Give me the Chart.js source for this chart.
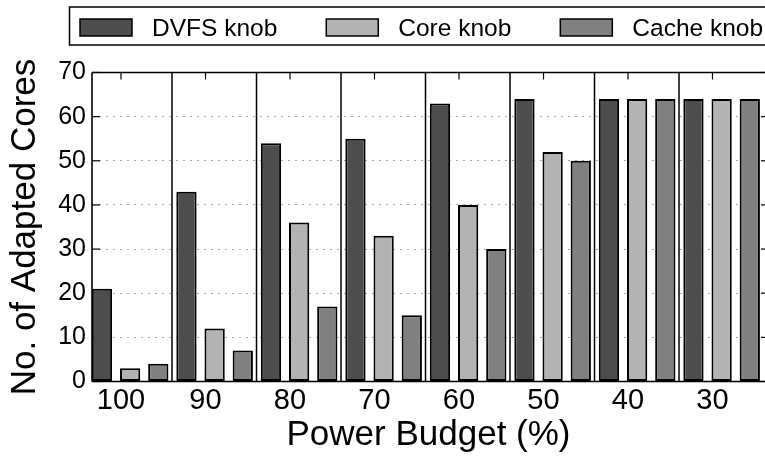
<!DOCTYPE html>
<html>
<head>
<meta charset="utf-8">
<script src="https://cdn.jsdelivr.net/npm/chart.js@4.4.0/dist/chart.umd.min.js"></script>
<style>
  html, body { margin: 0; padding: 0; background: #fff; }
  canvas { display: block; }
</style>
</head>
<body>
<canvas id="c" width="765" height="457"></canvas>
<script>
// Power budget levels (x categories) and adapted-core counts per knob
const budgets   = ['100', '90', '80', '70', '60', '50', '40', '30'];
const dvfsKnob  = [21, 43, 54, 55, 63, 64, 64, 64];
const coreKnob  = [3, 12, 36, 33, 40, 52, 64, 64];
const cacheKnob = [4, 7, 17, 15, 30, 50, 64, 64];
const yTicks    = [0, 10, 20, 30, 40, 50, 60, 70];
const seriesNames  = ['DVFS knob', 'Core knob', 'Cache knob'];
const seriesColors = ['#4d4d4d', '#b3b3b3', '#808080'];

const FONT = "'Liberation Sans', Arial, Helvetica, sans-serif";
// x axis is a linear index axis: tick i labels budget i,
// each bar cluster sits a little to the right of its tick
const BAR_SHIFT = 0.108;
const SEP_SHIFT = 0.6036;     // vertical divider between clusters
const X_MIN = -0.3432;
const X_MAX = 7.6213;

function seg(ctx, x1, y1, x2, y2) {
  ctx.beginPath(); ctx.moveTo(x1, y1); ctx.lineTo(x2, y2); ctx.stroke();
}

// plot frame, mirrored inward ticks and cluster dividers
const framePlugin = {
  id: 'frame',
  beforeDatasetsDraw(chart) {
    const { ctx, chartArea: a, scales: { x, y } } = chart;
    ctx.save();
    ctx.strokeStyle = '#000';
    ctx.lineWidth = 1.5;
    for (let i = 0; i < budgets.length - 1; i++) {
      const px = x.getPixelForValue(i + SEP_SHIFT);
      seg(ctx, px, a.top, px, a.bottom);
    }
    ctx.lineWidth = 1.2;
    yTicks.forEach(v => {
      const py = y.getPixelForValue(v);
      seg(ctx, a.left, py, a.left + 8, py);
      seg(ctx, a.right - 4, py, a.right, py);
    });
    budgets.forEach((b, i) => {
      const px = x.getPixelForValue(i);
      seg(ctx, px, a.top, px, a.top + 7);
      seg(ctx, px, a.bottom, px, a.bottom - 7);
    });
    ctx.restore();
  },
  afterDatasetsDraw(chart) {
    const { ctx, chartArea: a } = chart;
    ctx.save();
    ctx.strokeStyle = '#000';
    ctx.lineWidth = 1.6;
    seg(ctx, a.left, a.top, chart.width + 2, a.top);
    seg(ctx, a.left, a.bottom, chart.width + 2, a.bottom);
    seg(ctx, a.left, a.top, a.left, a.bottom);
    ctx.restore();
  }
};

// boxed legend across the top
const legendPlugin = {
  id: 'boxLegend',
  afterDraw(chart) {
    const ctx = chart.ctx;
    ctx.save();
    ctx.strokeStyle = '#000';
    ctx.lineWidth = 1.5;
    ctx.strokeRect(69.5, 7, chart.width, 38);
    ctx.font = '24.5px ' + FONT;
    ctx.textBaseline = 'alphabetic';
    let xPos = 80;
    chart.data.datasets.forEach(ds => {
      ctx.fillStyle = ds.backgroundColor;
      ctx.fillRect(xPos, 19, 52, 17);
      ctx.strokeRect(xPos, 19, 52, 17);
      ctx.fillStyle = '#000';
      ctx.fillText(ds.label, xPos + 72, 36);
      xPos += 72 + ctx.measureText(ds.label).width + 49;
    });
    ctx.restore();
  }
};

const series = [dvfsKnob, coreKnob, cacheKnob];

new Chart(document.getElementById('c'), {
  type: 'bar',
  data: {
    datasets: series.map((vals, s) => ({
      label: seriesNames[s],
      data: vals.map((v, i) => ({ x: i + BAR_SHIFT, y: v })),
      backgroundColor: seriesColors[s],
      borderColor: '#000',
      borderWidth: 2,
      borderSkipped: false,
      categoryPercentage: 1,
      barPercentage: 0.72
    }))
  },
  options: {
    responsive: false,
    animation: false,
    devicePixelRatio: 1,
    layout: { padding: { left: 4, top: 72.5, right: 0, bottom: 0 } },
    plugins: {
      legend: { display: false },
      tooltip: { enabled: false }
    },
    scales: {
      x: {
        type: 'linear',
        offset: false,
        bounds: 'data',
        min: X_MIN,
        max: X_MAX,
        afterBuildTicks: s => { s.ticks = budgets.map((b, i) => ({ value: i })); },
        afterFit: s => { s.height = 75.5; },
        grid: { display: false, drawTicks: false, offset: false },
        border: { display: false },
        ticks: {
          callback: (v, i) => budgets[i],
          font: { family: FONT, size: 29 },
          color: '#000',
          padding: 2,
          maxRotation: 0,
          autoSkip: false
        },
        title: {
          display: true,
          text: 'Power Budget (%)',
          font: { family: FONT, size: 35 },
          color: '#000',
          padding: { top: 0, bottom: 1 }
        }
      },
      y: {
        type: 'linear',
        min: 0,
        max: 70,
        afterBuildTicks: s => { s.ticks = yTicks.map(v => ({ value: v })); },
        afterFit: s => { s.width = 88; },
        grid: {
          color: c => (c.tick && c.tick.value > 0 && c.tick.value < 70) ? '#a6a6a6' : 'rgba(0,0,0,0)',
          lineWidth: 1,
          drawTicks: false
        },
        border: { display: false, dash: [2, 5] },
        ticks: {
          font: { family: FONT, size: 25 },
          color: '#000',
          padding: 6
        },
        title: {
          display: true,
          text: 'No. of Adapted Cores',
          font: { family: FONT, size: 35 },
          color: '#000',
          padding: { top: 0, bottom: 0 }
        }
      }
    }
  },
  plugins: [framePlugin, legendPlugin]
});
</script>
</body>
</html>
